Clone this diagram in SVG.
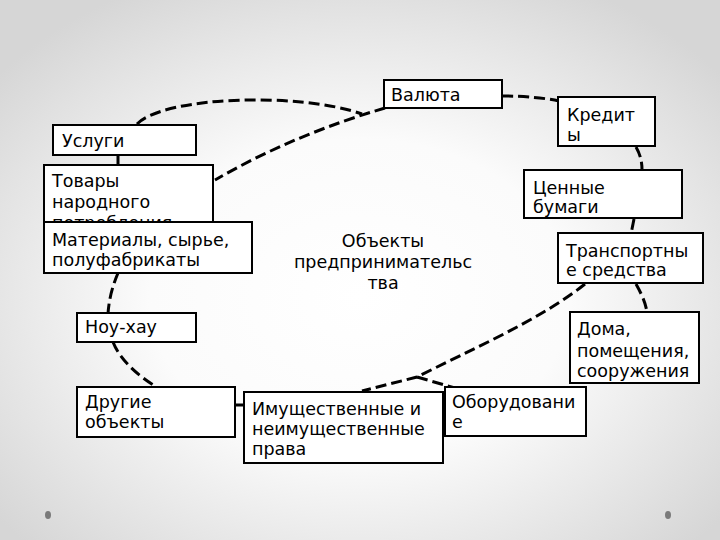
<svg xmlns="http://www.w3.org/2000/svg" width="720" height="540" viewBox="0 0 720 540">
<defs>
<radialGradient id="bg" cx="50%" cy="55%" r="65%">
<stop offset="0" stop-color="#ffffff"/>
<stop offset="0.45" stop-color="#fbfbfb"/>
<stop offset="1" stop-color="#d6d6d6"/>
</radialGradient>
<style>
.box{fill:#ffffff;stroke:#000000;stroke-width:2}
.t{font-family:"DejaVu Sans",Verdana,sans-serif;font-size:17.5px;fill:#000000}
.c{fill:none;stroke:#000000;stroke-width:3;stroke-dasharray:11 5}
.dot{fill:#7a7a7a}
</style>
</defs>
<rect x="0" y="0" width="720" height="540" fill="url(#bg)"/>
<ellipse class="dot" cx="48" cy="515" rx="3" ry="4"/>
<ellipse class="dot" cx="668" cy="515" rx="3" ry="4"/>
<g id="connectors">
<path class="c" d="M137,124 C165,96 300,92 362,114"/>
<path class="c" d="M385,108 C330,124 270,148 215,180"/>
<path class="c" d="M502,96 C525,96 545,98 559,101"/>
<path class="c" d="M636,147 C640,154 642,161 642,170"/>
<path class="c" d="M634,219 L631,234"/>
<path class="c" d="M636,284 C641,293 646,303 647,313"/>
<path class="c" d="M585,284 C540,320 470,350 417,377 L362,391"/>
<path class="c" d="M417,377 L455,388"/>
<path class="c" d="M118,155 L118,166"/>
<path class="c" d="M118,273 C113,285 109,298 108,314"/>
<path class="c" d="M113,342 C120,360 138,376 158,388"/>
<path class="c" d="M235,405 L245,405"/>
</g>
<g id="valyuta">
<rect class="box" x="384" y="80" width="118" height="28"/>
<text class="t" x="391" y="101">Валюта</text>
</g>
<g id="kredity">
<rect class="box" x="558" y="97" width="97" height="49"/>
<text class="t" x="567" y="121">Кредит</text>
<text class="t" x="567" y="141">ы</text>
</g>
<g id="tsennye">
<rect class="box" x="524" y="170" width="158" height="48"/>
<text class="t" x="533" y="194">Ценные</text>
<text class="t" x="533" y="213">бумаги</text>
</g>
<g id="transport">
<rect class="box" x="558" y="233" width="145" height="50"/>
<text class="t" x="566" y="257">Транспортны</text>
<text class="t" x="566" y="276">е средства</text>
</g>
<g id="doma">
<rect class="box" x="570" y="312" width="129" height="71"/>
<text class="t" x="577" y="335">Дома,</text>
<text class="t" x="577" y="357">помещения,</text>
<text class="t" x="577" y="377">сооружения</text>
</g>
<g id="oborudovanie">
<rect class="box" x="445" y="387" width="141" height="49"/>
<text class="t" x="452" y="408">Оборудовани</text>
<text class="t" x="452" y="428">е</text>
</g>
<g id="imush">
<rect class="box" x="244" y="392" width="199" height="71"/>
<text class="t" x="252" y="415">Имущественные и</text>
<text class="t" x="252" y="435">неимущественные</text>
<text class="t" x="252" y="455">права</text>
</g>
<g id="drugie">
<rect class="box" x="77" y="387" width="158" height="50"/>
<text class="t" x="85" y="408">Другие</text>
<text class="t" x="85" y="428">объекты</text>
</g>
<g id="nouhau">
<rect class="box" x="77" y="313" width="119" height="29"/>
<text class="t" x="85" y="333">Ноу-хау</text>
</g>
<g id="uslugi">
<rect class="box" x="53" y="125" width="143" height="30"/>
<text class="t" x="62" y="147">Услуги</text>
</g>
<g id="tovary">
<rect class="box" x="44" y="165" width="169" height="75"/>
<text class="t" x="52" y="187">Товары</text>
<text class="t" x="52" y="208">народного</text>
<text class="t" x="52" y="229">потребления</text>
</g>
<g id="materialy">
<rect class="box" x="44" y="222" width="208" height="51"/>
<text class="t" x="52" y="246">Материалы, сырье,</text>
<text class="t" x="52" y="266">полуфабрикаты</text>
</g>
<g id="center">
<text class="t" x="383" y="247" text-anchor="middle">Объекты</text>
<text class="t" x="383" y="268" text-anchor="middle">предпринимательс</text>
<text class="t" x="383" y="289" text-anchor="middle">тва</text>
</g>
</svg>
